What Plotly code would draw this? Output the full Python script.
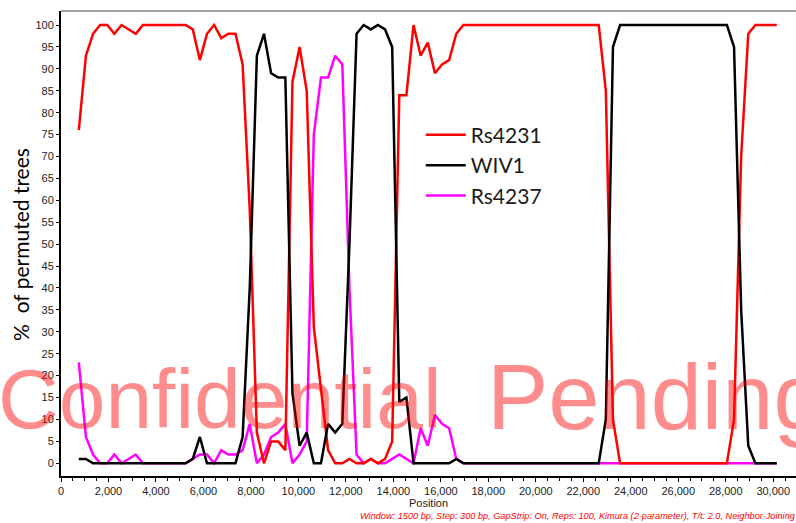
import plotly.graph_objects as go

# Window midpoints (bp): 1500 bp window, 300 bp step
start = 750
step = 300
n_points = 99
positions = [start + step * i for i in range(n_points)]

rs4231 = [76, 93, 98, 100, 100, 98, 100, 99, 98, 100,
          100, 100, 100, 100, 100, 100, 99, 92, 98, 100,
          97, 98, 98, 91, 58, 7, 0, 5, 5, 3,
          87, 95, 85, 31, 17, 3, 0, 0, 1, 0,
          0, 1, 0, 1, 5, 84, 84, 100, 93, 96,
          89, 91, 92, 98, 100, 100, 100, 100, 100, 100,
          100, 100, 100, 100, 100, 100, 100, 100, 100, 100,
          100, 100, 100, 100, 85, 10, 0, 0, 0, 0,
          0, 0, 0, 0, 0, 0, 0, 0, 0, 0,
          0, 0, 10, 70, 98, 100, 100, 100, 100]

wiv1 = [1, 1, 0, 0, 0, 0, 0, 0, 0, 0,
        0, 0, 0, 0, 0, 0, 1, 6, 0, 0,
        0, 0, 0, 6, 40, 93, 98, 89, 88, 88,
        16, 4, 7, 0, 0, 9, 7, 9, 50, 98,
        100, 99, 100, 99, 95, 14, 15, 0, 0, 0,
        0, 0, 0, 1, 0, 0, 0, 0, 0, 0,
        0, 0, 0, 0, 0, 0, 0, 0, 0, 0,
        0, 0, 0, 0, 10, 95, 100, 100, 100, 100,
        100, 100, 100, 100, 100, 100, 100, 100, 100, 100,
        100, 100, 95, 35, 4, 0, 0, 0, 0]

rs4237 = [23, 6, 2, 0, 0, 2, 0, 1, 2, 0,
          0, 0, 0, 0, 0, 0, 1, 2, 2, 0,
          3, 2, 2, 3, 9, 0, 2, 6, 7, 9,
          0, 2, 5, 75, 88, 88, 93, 91, 40, 2,
          0, 1, 0, 0, 1, 2, 1, 0, 8, 4,
          11, 9, 8, 1, 0, 0, 0, 0, 0, 0,
          0, 0, 0, 0, 0, 0, 0, 0, 0, 0,
          0, 0, 0, 0, 0, 0, 0, 0, 0, 0,
          0, 0, 0, 0, 0, 0, 0, 0, 0, 0,
          0, 0, 0, 0, 0, 0, 0, 0, 0]

series = [
    ("Rs4237", rs4237, "#FF00FF", 3),
    ("Rs4231", rs4231, "#FF0000", 1),
    ("WIV1", wiv1, "#000000", 2),
]

fig = go.Figure()
for name, vals, color, rank in series:
    fig.add_trace(go.Scatter(
        x=positions, y=vals, mode="lines", name=name,
        line=dict(color=color, width=2.5), legendrank=rank,
    ))

tick_font = dict(family="Liberation Sans, Arial, sans-serif", size=11, color="#222222")

fig.update_layout(
    width=796, height=523,
    margin=dict(l=61, r=0, t=11, b=47),
    paper_bgcolor="white", plot_bgcolor="white",
    showlegend=True,
    legend=dict(
        x=0.4895, y=0.777, xanchor="left", yanchor="top",
        bgcolor="rgba(0,0,0,0)", borderwidth=0,
        font=dict(family="Lato, Carlito, sans-serif", size=21, color="#1a1a1a"),
        itemwidth=40,
    ),
    xaxis=dict(
        range=[0, 30960], showgrid=False, zeroline=False,
        showline=True, linecolor="black", linewidth=2,
        ticks="outside", ticklen=4, tickcolor="black", tickwidth=1,
        dtick=2000, tick0=0, tickformat=",d", tickfont=tick_font,
        minor=dict(dtick=500, ticks="outside", ticklen=3, tickcolor="black"),
        title=dict(text="Position", font=dict(family="Liberation Sans, Arial, sans-serif", size=11, color="#222222"), standoff=2),
    ),
    yaxis=dict(
        range=[-2.9, 103.2], showgrid=False, zeroline=False,
        showline=True, linecolor="black", linewidth=2,
        ticks="outside", ticklen=3, tickcolor="black",
        dtick=5, tick0=0, tickfont=tick_font,
    ),
)

# top frame line
fig.add_shape(type="line", xref="paper", yref="paper", x0=0, x1=1, y0=1, y1=1,
              line=dict(color="#808080", width=1.5))

fig.add_annotation(
    text="%\u00a0 of permuted trees", textangle=-90,
    xref="paper", yref="paper", x=-0.0544, y=0.497,
    xanchor="center", yanchor="middle", showarrow=False,
    font=dict(family="Lato, Carlito, sans-serif", size=21, color="black"),
)

fig.add_annotation(
    text="<i>Window: 1500 bp, Step: 300 bp, GapStrip: On, Reps: 100, Kimura (2-parameter), T/t: 2.0, Neighbor-Joining</i>",
    xref="paper", yref="paper", x=0.404, y=-0.086,
    xanchor="left", yanchor="middle", showarrow=False,
    font=dict(family="Liberation Sans, Arial, sans-serif", size=9.2, color="#FF0000"),
)

wm_font = "Liberation Sans, Arial, sans-serif"
wm_color = "rgba(255,0,0,0.45)"
fig.add_annotation(
    text="Confidential",
    xref="paper", yref="paper", x=(-4 - 61) / 735, y=0.166,
    xanchor="left", yanchor="middle", showarrow=False,
    font=dict(family=wm_font, size=84, color=wm_color),
)
fig.add_annotation(
    text="Pending",
    xref="paper", yref="paper", x=(485 - 61) / 735, y=0.17,
    xanchor="left", yanchor="middle", showarrow=False,
    font=dict(family=wm_font, size=92, color=wm_color),
)

fig.write_html("out.html")
